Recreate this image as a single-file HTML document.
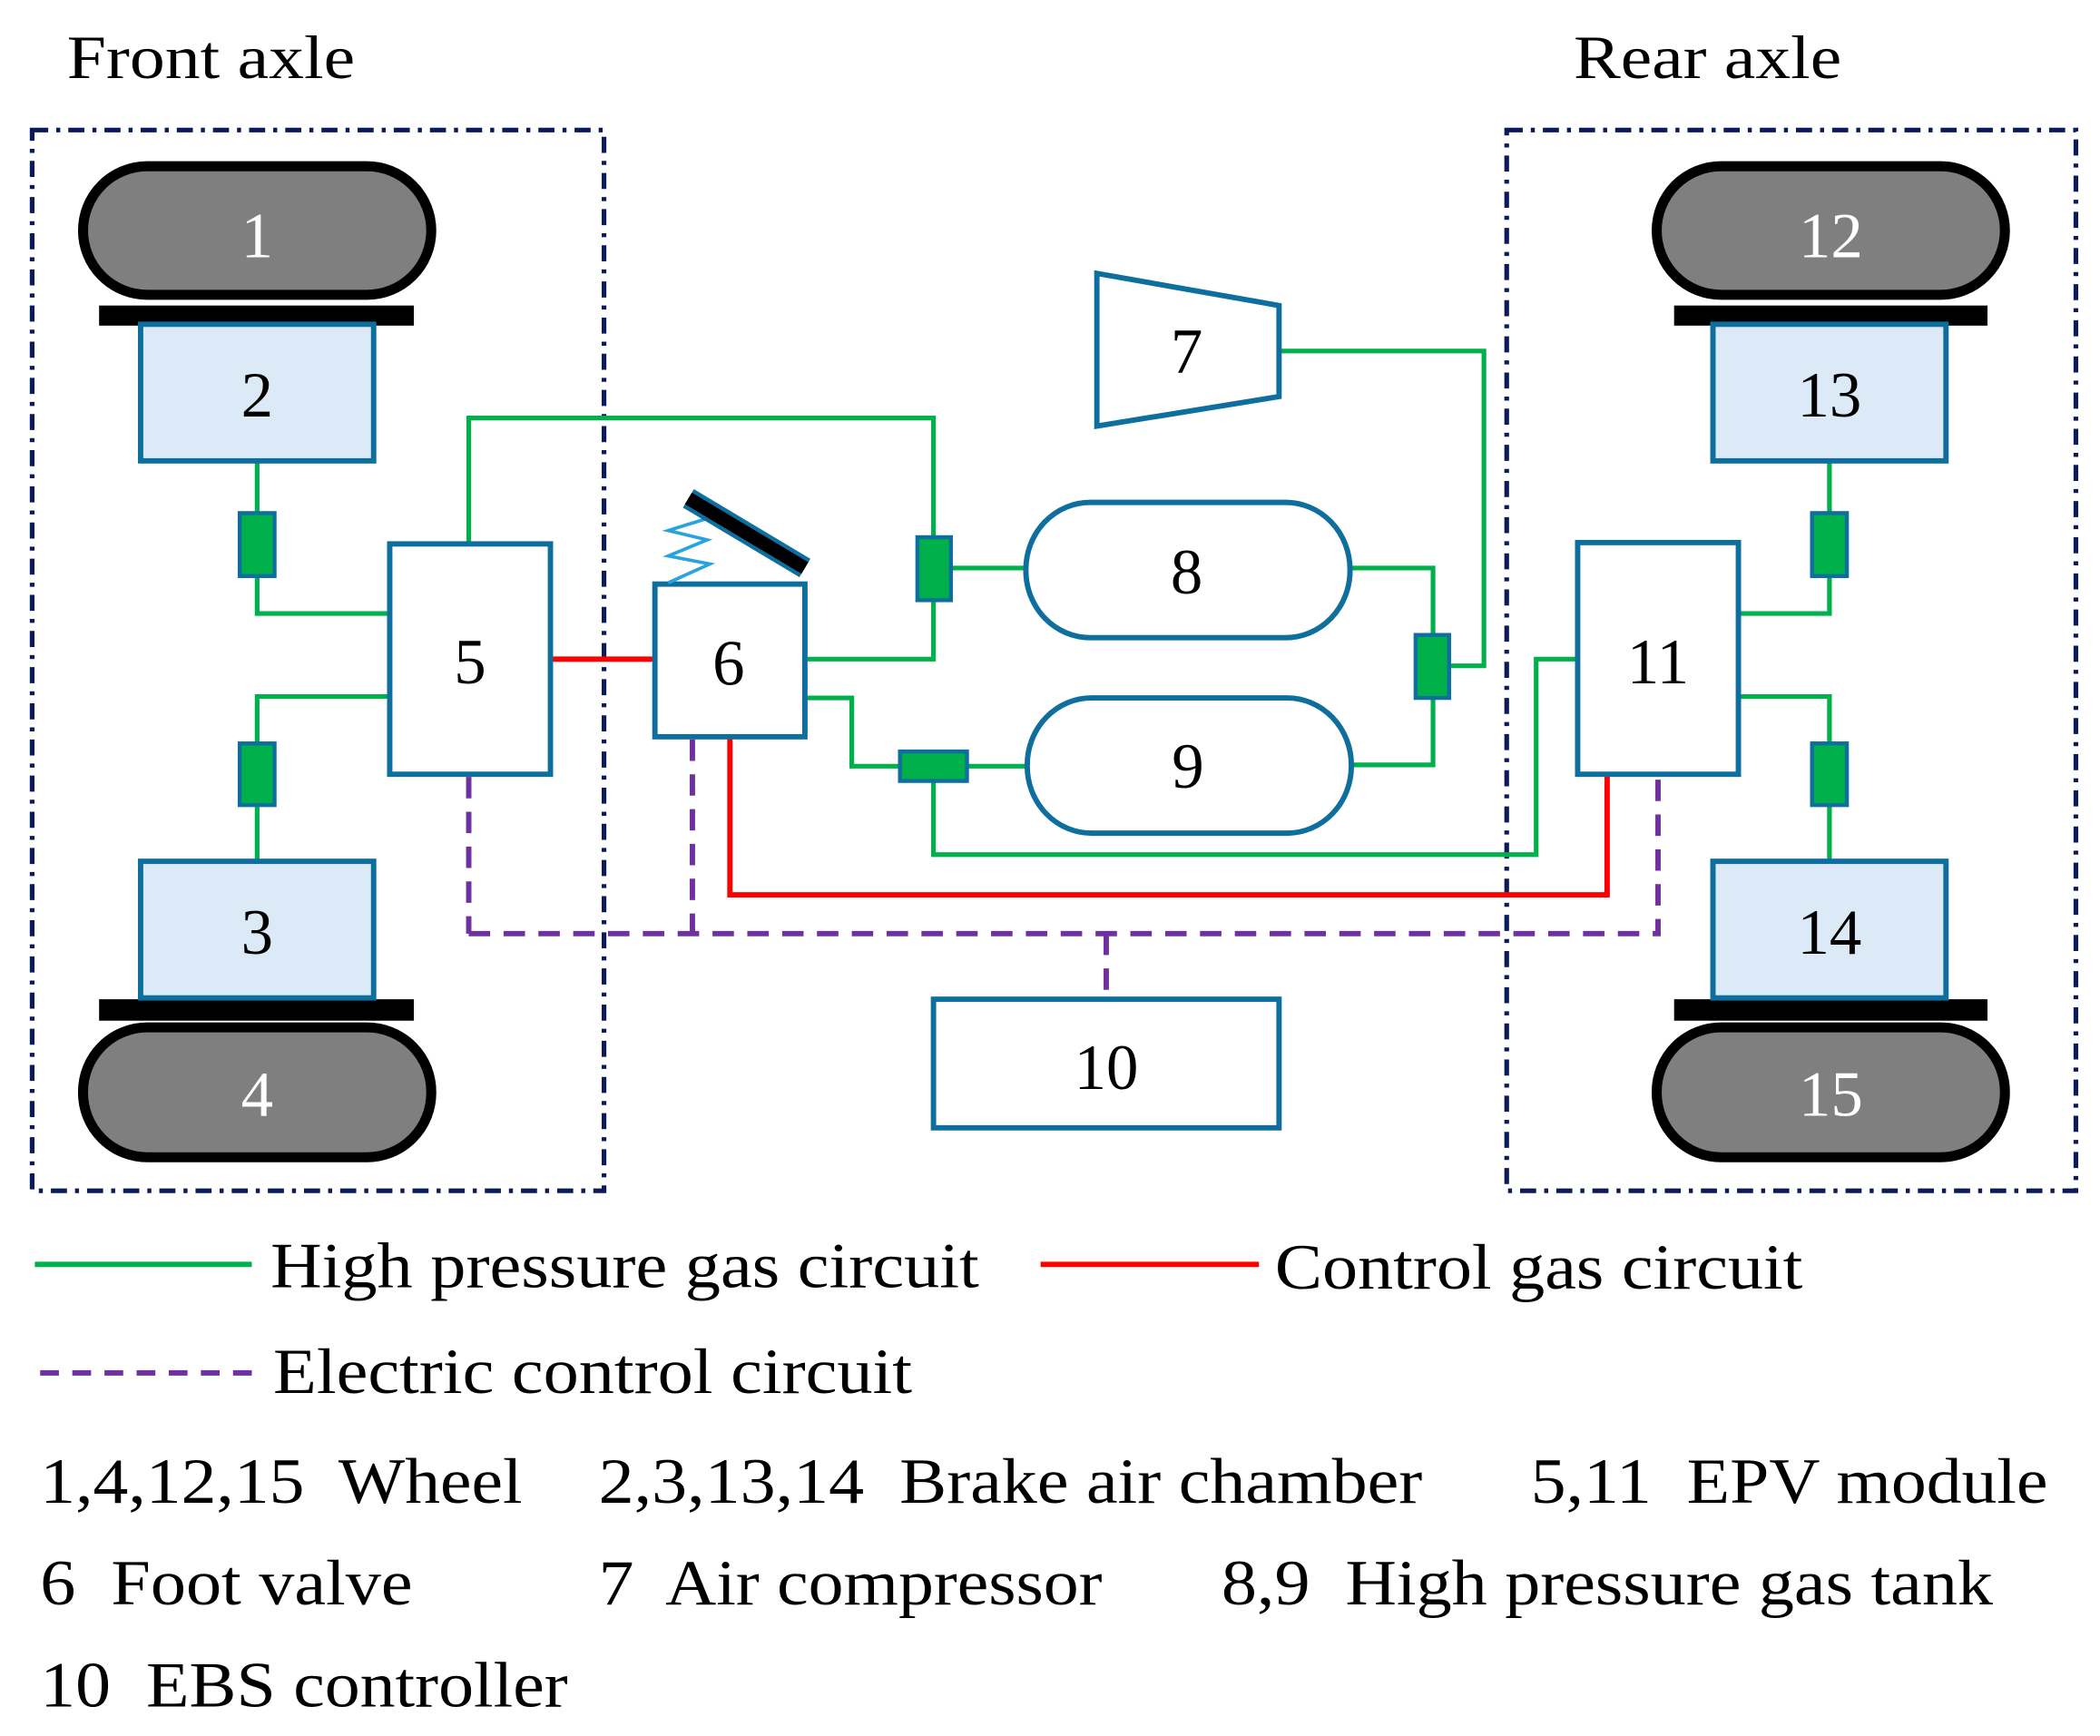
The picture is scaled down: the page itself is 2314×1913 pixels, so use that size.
<!DOCTYPE html>
<html><head><meta charset="utf-8"><style>
html,body{margin:0;padding:0;background:#fff}
svg{display:block}
text{font-family:"Liberation Serif","Times New Roman",serif}
</style></head><body>
<svg width="2314" height="1913" viewBox="0 0 1568 1296" xmlns="http://www.w3.org/2000/svg">
<rect width="1568" height="1296" fill="#fff"/>
<!-- titles -->
<text x="50" y="58" font-size="46" textLength="215" lengthAdjust="spacingAndGlyphs">Front axle</text>
<text x="1175" y="58" font-size="46" textLength="200" lengthAdjust="spacingAndGlyphs">Rear axle</text>
<!-- axle boxes -->
<g fill="none" stroke="#0a1a5a" stroke-width="3.5" stroke-dasharray="12,6,3,6">
<rect x="24" y="97" width="427" height="792"/>
<rect x="1125" y="97" width="425" height="792"/>
</g>
<!-- green lines -->
<g fill="none" stroke="#00b04a" stroke-width="3.5">
<polyline points="192,344 192,458 291,458"/>
<polyline points="291,520 192,520 192,643"/>
<polyline points="350,406 350,312 697,312 697,492 601,492"/>
<line x1="709" y1="424" x2="766" y2="424"/>
<polyline points="601,521 636,521 636,572 672,572"/>
<line x1="722" y1="572" x2="767" y2="572"/>
<polyline points="697,583 697,638 1147,638 1147,492 1178,492"/>
<polyline points="955,262 1108,262 1108,497 1082,497"/>
<polyline points="1008,424 1070,424 1070,474"/>
<polyline points="1008,571 1070,571 1070,521"/>
<polyline points="1298,458 1366,458 1366,344"/>
<polyline points="1298,520 1366,520 1366,643"/>
</g>
<!-- red lines -->
<g fill="none" stroke="#ff0000" stroke-width="4">
<line x1="411" y1="492" x2="489" y2="492"/>
<polyline points="545,550 545,668 1200,668 1200,578"/>
</g>
<!-- purple dashed -->
<g fill="none" stroke="#7030a0" stroke-width="4" stroke-dasharray="16,10">
<line x1="350" y1="580" x2="350" y2="697"/>
<line x1="517" y1="552" x2="517" y2="697"/>
<line x1="350" y1="697" x2="1240" y2="697"/>
<line x1="1238" y1="582" x2="1238" y2="697"/>
<line x1="826" y1="697" x2="826" y2="746"/>
</g>
<!-- wheels -->
<g fill="#7f7f7f" stroke="#000" stroke-width="7.5">
<rect x="62" y="124" width="260" height="96" rx="48"/>
<rect x="62" y="767" width="260" height="97" rx="48"/>
<rect x="1237" y="124" width="260" height="96" rx="48"/>
<rect x="1237" y="767" width="260" height="97" rx="48"/>
</g>
<g fill="#000">
<rect x="74" y="228" width="235" height="15"/>
<rect x="74" y="746" width="235" height="16"/>
<rect x="1250" y="228" width="234" height="15"/>
<rect x="1250" y="746" width="234" height="16"/>
</g>
<!-- chambers -->
<g fill="#dbeaf6" stroke="#0e6f9e" stroke-width="4">
<rect x="105" y="242" width="174" height="102"/>
<rect x="105" y="643" width="174" height="102"/>
<rect x="1279" y="242" width="174" height="102"/>
<rect x="1279" y="643" width="174" height="102"/>
</g>
<!-- white boxes -->
<g fill="#fff" stroke="#0e6f9e" stroke-width="4">
<rect x="291" y="406" width="120" height="172"/>
<rect x="489" y="436" width="112" height="114"/>
<rect x="1178" y="405" width="120" height="173"/>
<rect x="697" y="746" width="258" height="96"/>
<polygon points="819,204 955,228 955,296 819,318"/>
<rect x="766" y="375" width="242" height="101" rx="48" ry="50"/>
<rect x="767" y="521" width="242" height="101" rx="48" ry="50"/>
</g>
<!-- valves -->
<g fill="#00b04a" stroke="#0e6f9e" stroke-width="3">
<rect x="179" y="383" width="26" height="47"/>
<rect x="179" y="555" width="26" height="46"/>
<rect x="685" y="401" width="25" height="47"/>
<rect x="672" y="561" width="50" height="22"/>
<rect x="1057" y="474" width="25" height="47"/>
<rect x="1353" y="383" width="26" height="47"/>
<rect x="1353" y="555" width="26" height="46"/>
</g>
<!-- foot pedal -->
<polyline points="499,435 530,421 499,415 528,403 499,396 528,387" fill="none" stroke="#29a3e0" stroke-width="2.5"/>
<line x1="514" y1="372" x2="601" y2="424" stroke="#0e6f9e" stroke-width="16"/>
<line x1="514" y1="372" x2="601" y2="424" stroke="#000" stroke-width="10"/>
<!-- labels -->
<g font-size="48" text-anchor="middle">
<text x="192" y="192" fill="#fff">1</text>
<text x="192" y="311">2</text>
<text x="192" y="712">3</text>
<text x="192" y="833" fill="#fff">4</text>
<text x="351" y="510">5</text>
<text x="544" y="511">6</text>
<text x="886" y="278">7</text>
<text x="886" y="443">8</text>
<text x="887" y="588">9</text>
<text x="826" y="813">10</text>
<text x="1238" y="510">11</text>
<text x="1367" y="192" fill="#fff">12</text>
<text x="1366" y="311">13</text>
<text x="1366" y="712">14</text>
<text x="1367" y="833" fill="#fff">15</text>
</g>
<!-- legend -->
<line x1="26" y1="944" x2="188" y2="944" stroke="#00b04a" stroke-width="4"/>
<line x1="777" y1="944" x2="940" y2="944" stroke="#ff0000" stroke-width="4"/>
<line x1="30" y1="1025" x2="190" y2="1025" stroke="#7030a0" stroke-width="4" stroke-dasharray="14,10"/>
<g font-size="48" lengthAdjust="spacingAndGlyphs">
<text x="202" y="961" textLength="529" lengthAdjust="spacingAndGlyphs">High pressure gas circuit</text>
<text x="952" y="962" textLength="394" lengthAdjust="spacingAndGlyphs">Control gas circuit</text>
<text x="204" y="1040" textLength="477" lengthAdjust="spacingAndGlyphs">Electric control circuit</text>
<text x="30" y="1122" textLength="360" lengthAdjust="spacingAndGlyphs" xml:space="preserve">1,4,12,15  Wheel</text>
<text x="447" y="1122" textLength="615" lengthAdjust="spacingAndGlyphs" xml:space="preserve">2,3,13,14  Brake air chamber</text>
<text x="1143" y="1122" textLength="386" lengthAdjust="spacingAndGlyphs" xml:space="preserve">5,11  EPV module</text>
<text x="30" y="1198" textLength="278" lengthAdjust="spacingAndGlyphs" xml:space="preserve">6  Foot valve</text>
<text x="447" y="1198" textLength="376" lengthAdjust="spacingAndGlyphs" xml:space="preserve">7  Air compressor</text>
<text x="912" y="1198" textLength="576" lengthAdjust="spacingAndGlyphs" xml:space="preserve">8,9  High pressure gas tank</text>
<text x="30" y="1274" textLength="394" lengthAdjust="spacingAndGlyphs" xml:space="preserve">10  EBS controller</text>
</g>
</svg>
</body></html>
